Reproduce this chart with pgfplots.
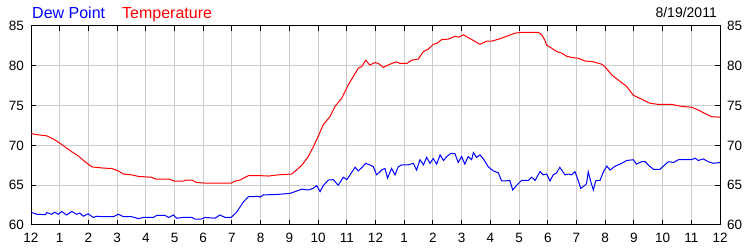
\documentclass[border=0pt]{standalone}
\usepackage{pgfplots}
\pgfplotsset{compat=1.18}
\usepackage{fontspec}
\setmainfont{Liberation Sans}
\definecolor{gridgray}{RGB}{204,204,204}
\begin{document}
\begin{tikzpicture}
\pgfplotsset{
  base/.style={
    name=main,
    at={(0pt,0pt)}, anchor=south west, scale only axis,
    width=689pt, height=199pt,
    xmin=0, xmax=24, ymin=60, ymax=85,
    ytick={60,65,70,75,80,85},
    /pgf/number format/assume math mode=true,
    tick label style={font=\fontsize{13.5}{15}\selectfont, inner sep=0pt},
  }
}
\begin{axis}[base,
    axis line style={black, line width=1pt},
    xtick={0,...,24},
    xticklabels={12,1,2,3,4,5,6,7,8,9,10,11,12,1,2,3,4,5,6,7,8,9,10,11,12},
    xticklabel style={anchor=north, yshift=-8pt},
    yticklabel pos=left,
    ytick pos=both, xtick pos=both,
    yticklabel style={anchor=east, xshift=-7pt},
    tick align=inside, major tick length=5pt,
    tick style={black, line width=1pt},
    grid=major, major grid style={gridgray, line width=1pt},
]
\addplot[red, line width=1pt] coordinates {
(0,71.5)(0.2,71.35)(0.55,71.2)(0.78,70.8)(1.0,70.3)(1.42,69.2)(1.64,68.7)(1.88,67.95)
(2.12,67.3)(2.52,67.15)(2.81,67.1)(3.04,66.8)(3.22,66.4)(3.5,66.3)(3.75,66.1)(4.2,66.0)
(4.35,65.75)(4.82,65.75)(5.0,65.5)(5.29,65.5)(5.4,65.65)(5.6,65.65)(5.76,65.35)(6.1,65.25)
(6.97,65.25)(7.1,65.5)(7.28,65.65)(7.57,66.2)(7.98,66.2)(8.27,66.15)(8.61,66.3)(9.08,66.4)
(9.25,66.9)(9.43,67.5)(9.66,68.6)(9.83,69.8)(10.0,71.1)(10.18,72.6)(10.41,73.6)(10.59,74.9)
(10.82,75.9)(11.05,77.6)(11.4,79.7)(11.52,79.9)(11.66,80.7)(11.8,80.1)(11.98,80.4)(12.1,80.3)
(12.27,79.8)(12.5,80.2)(12.74,80.5)(12.85,80.3)(13.09,80.3)(13.26,80.7)(13.49,80.85)(13.67,81.8)
(13.84,82.1)(14.01,82.7)(14.13,82.8)(14.31,83.3)(14.54,83.35)(14.77,83.7)(14.9,83.6)(15.06,83.9)
(15.35,83.3)(15.64,82.7)(15.87,83.1)(16.05,83.1)(16.34,83.4)(16.63,83.8)(16.86,84.1)(17.09,84.2)
(17.44,84.2)(17.67,84.2)(17.79,83.9)(17.9,83.2)(17.96,82.6)(18.14,82.2)(18.31,81.8)(18.48,81.6)
(18.66,81.2)(18.89,81.0)(19.06,80.95)(19.3,80.6)(19.59,80.5)(19.88,80.2)(19.99,79.9)(20.23,78.85)
(20.46,78.2)(20.75,77.4)(20.98,76.3)(21.27,75.8)(21.56,75.3)(21.85,75.15)(22.32,75.15)(22.66,74.9)
(23.01,74.8)(23.24,74.45)(23.48,74.0)(23.71,73.6)(24.0,73.55)
};
\addplot[blue, line width=1pt] coordinates {
(0,61.6)(0.2,61.35)(0.5,61.3)(0.55,61.55)(0.72,61.35)(0.82,61.6)(0.95,61.35)(1.07,61.7)
(1.24,61.26)(1.42,61.7)(1.59,61.35)(1.7,61.5)(1.82,61.1)(1.99,61.4)(2.17,60.95)(2.28,61.1)
(2.46,61.05)(2.87,61.05)(3.04,61.35)(3.22,61.05)(3.5,61.05)(3.74,60.8)(3.92,60.95)(4.26,60.95)
(4.38,61.2)(4.67,61.2)(4.79,60.95)(4.96,61.25)(5.08,60.85)(5.31,60.95)(5.6,60.95)(5.71,60.75)
(5.94,60.75)(6.06,60.95)(6.41,60.85)(6.58,61.26)(6.76,60.95)(6.97,60.95)(7.16,61.6)(7.4,62.9)
(7.57,63.55)(7.92,63.6)(7.98,63.5)(8.09,63.77)(8.61,63.85)(9.02,63.97)(9.2,64.2)(9.43,64.5)
(9.66,64.4)(9.83,64.6)(9.95,64.95)(10.07,64.2)(10.18,64.95)(10.36,65.65)(10.53,65.7)(10.7,65.0)
(10.88,66.0)(11.0,65.7)(11.11,66.28)(11.29,67.25)(11.4,66.8)(11.52,67.2)(11.66,67.75)(11.8,67.55)
(11.92,67.35)(12.04,66.3)(12.21,66.9)(12.33,67.1)(12.42,65.9)(12.56,67.1)(12.68,66.3)(12.79,67.3)
(12.91,67.55)(13.14,67.55)(13.32,67.75)(13.43,66.9)(13.55,68.2)(13.67,67.55)(13.78,68.5)(13.9,67.75)
(14.01,68.35)(14.13,67.65)(14.25,68.8)(14.37,68.1)(14.48,68.6)(14.63,69.0)(14.77,68.95)(14.88,67.85)
(15.0,68.6)(15.11,67.65)(15.23,68.6)(15.35,68.2)(15.41,69.1)(15.52,68.5)(15.64,68.8)(15.76,68.3)
(15.93,67.3)(16.1,66.8)(16.28,66.55)(16.39,65.55)(16.57,65.55)(16.68,65.6)(16.78,64.4)(16.92,65.0)
(17.09,65.6)(17.33,65.6)(17.44,66.0)(17.56,65.6)(17.73,66.7)(17.84,66.3)(17.96,66.4)(18.08,65.55)
(18.19,66.3)(18.31,66.55)(18.42,67.25)(18.6,66.3)(18.72,66.4)(18.83,66.3)(18.95,66.7)(19.04,65.8)
(19.15,64.6)(19.3,65.0)(19.35,65.2)(19.41,66.7)(19.51,65.3)(19.59,64.4)(19.67,65.55)(19.82,65.6)
(19.94,66.7)(20.06,67.4)(20.17,66.9)(20.35,67.4)(20.52,67.65)(20.75,68.1)(20.98,68.2)(21.09,67.65)
(21.27,67.95)(21.39,67.95)(21.5,67.55)(21.68,67.0)(21.91,67.0)(22.03,67.4)(22.2,67.95)(22.38,67.85)
(22.55,68.2)(22.78,68.2)(23.01,68.2)(23.13,68.4)(23.24,68.1)(23.42,68.3)(23.59,67.95)(23.77,67.75)
(24.0,67.85)
};
\end{axis}
\begin{axis}[base, name=second,
    hide x axis,
    axis y line*=right,
    y axis line style={draw=none},
    ytick style={draw=none},
    yticklabel style={anchor=west, xshift=7pt},
]
\end{axis}
\node[anchor=base west, inner sep=0pt, text=blue, font=\fontsize{16}{18}\selectfont] at ([xshift=1pt,yshift=7pt]main.north west) {Dew Point};
\node[anchor=base west, inner sep=0pt, text=red, font=\fontsize{16}{18}\selectfont] at ([xshift=91pt,yshift=7pt]main.north west) {Temperature};
\node[anchor=base east, inner sep=0pt, font=\fontsize{14}{16}\selectfont] at ([xshift=-3pt,yshift=8pt]main.north east) {8/19/2011};
\pgfresetboundingbox
\useasboundingbox ([xshift=-31pt,yshift=-25pt]main.south west) rectangle ([xshift=30pt,yshift=26pt]main.north east);
\end{tikzpicture}
\end{document}
